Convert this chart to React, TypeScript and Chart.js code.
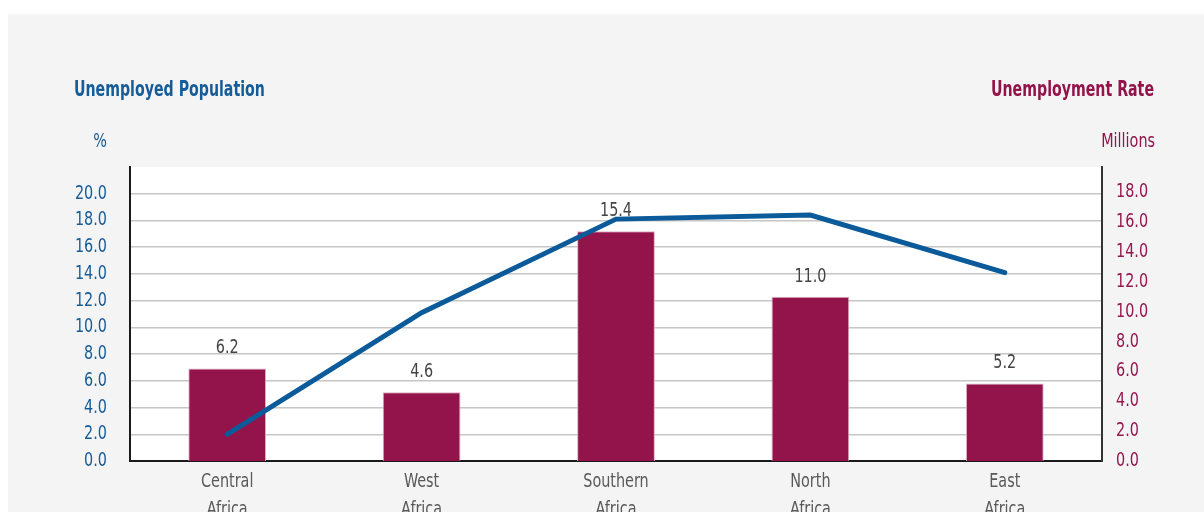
import React, { useEffect, useRef } from "react";
import { Chart, registerables } from "chart.js";

Chart.register(...registerables);

// ---- data ----
const categories: string[][] = [
  ["Central", "Africa"],
  ["West", "Africa"],
  ["Southern", "Africa"],
  ["North", "Africa"],
  ["East", "Africa"],
];
const barValues = [6.2, 4.6, 15.4, 11.0, 5.2];
const lineValues = [2.0, 11.1, 18.1, 18.4, 14.1];
const leftTicks = [0, 2, 4, 6, 8, 10, 12, 14, 16, 18, 20];
const rightTicks = [0, 2, 4, 6, 8, 10, 12, 14, 16, 18];
const leftTitle = "Unemployed Population";
const leftUnit = "%";
const rightTitle = "Unemployment Rate";
const rightUnit = "Millions";

const FONT = "'DejaVu Sans Condensed', 'Liberation Sans Narrow', sans-serif";
const BLUE = "#165C98";
const MAROON = "#93144A";
const RIGHT_TICK = "#96174E";
const W = 1196;
const H = 498;
const SX = 0.8;

function txt(
  ctx: CanvasRenderingContext2D,
  s: string,
  x: number,
  y: number,
  align: CanvasTextAlign,
  font: string,
  color: string,
  sx: number = SX
) {
  ctx.save();
  ctx.font = font;
  ctx.fillStyle = color;
  ctx.textBaseline = "alphabetic";
  ctx.textAlign = align;
  ctx.translate(x, y);
  ctx.scale(sx, 1);
  ctx.fillText(s, 0, 0);
  ctx.restore();
}

const decorPlugin = {
  id: "decor",
  beforeDraw(chart: any) {
    const { ctx, chartArea } = chart;
    ctx.save();
    ctx.fillStyle = "#ffffff";
    ctx.fillRect(chartArea.left, chartArea.top, chartArea.right - chartArea.left, chartArea.bottom - chartArea.top);
    ctx.restore();
  },
  afterDatasetDraw(chart: any, args: any) {
    if (args.meta.type !== "bar") return;
    const { ctx } = chart;
    const vals = chart.data.datasets[args.index].data as number[];
    args.meta.data.forEach((el: any, i: number) => {
      txt(ctx, Number(vals[i]).toFixed(1), el.x, el.y - 15, "center", `20px ${FONT}`, "#444444");
    });
  },
  afterDraw(chart: any) {
    const { ctx, chartArea, scales } = chart;
    // titles
    txt(ctx, leftTitle, 66, 82, "left", `bold 21px ${FONT}`, BLUE, 0.75);
    txt(ctx, rightTitle, 1146, 82, "right", `bold 21px ${FONT}`, MAROON, 0.75);
    txt(ctx, leftUnit, 99, 133, "right", `20px ${FONT}`, BLUE);
    txt(ctx, rightUnit, 1147, 133, "right", `20px ${FONT}`, MAROON);
    // left ticks
    const yL = scales.yL;
    leftTicks.forEach((v) => {
      txt(ctx, v.toFixed(1), chartArea.left - 23, yL.getPixelForValue(v) + 5, "right", `20px ${FONT}`, BLUE);
    });
    // right ticks
    const yR = scales.yR;
    rightTicks.forEach((v) => {
      txt(ctx, v.toFixed(1), chartArea.right + 14, yR.getPixelForValue(v) + 5, "left", `20px ${FONT}`, RIGHT_TICK);
    });
    // category labels
    const xs = scales.x;
    categories.forEach((lines, i) => {
      const x = xs.getPixelForTick(i);
      lines.forEach((line, j) => {
        txt(ctx, line, x, chartArea.bottom + 26 + j * 28, "center", `20px ${FONT}`, "#595959");
      });
    });
  },
};

export default function App() {
  const ref = useRef<HTMLCanvasElement>(null);

  useEffect(() => {
    if (!ref.current) return;
    const chart = new Chart(ref.current, {
      type: "bar",
      data: {
        labels: categories.map((c) => c.join(" ")),
        datasets: [
          {
            type: "line",
            data: lineValues,
            yAxisID: "yL",
            borderColor: "#0B5A99",
            borderWidth: 5,
            pointRadius: 0,
            borderCapStyle: "round",
            borderJoinStyle: "miter",
            tension: 0,
            order: 0,
          } as any,
          {
            type: "bar",
            data: barValues,
            yAxisID: "yR",
            backgroundColor: MAROON,
            borderColor: "#dcb0c3",
            borderWidth: 1,
            barPercentage: 0.4,
            categoryPercentage: 1,
            order: 1,
          } as any,
        ],
      },
      options: {
        responsive: false,
        animation: false,
        layout: { padding: { top: 153, left: 0, right: 0, bottom: 0 } },
        plugins: { legend: { display: false }, tooltip: { enabled: false } },
        scales: {
          x: {
            type: "category",
            offset: true,
            grid: { display: false, drawTicks: false },
            border: { display: true, color: "#1a1a1a", width: 2 },
            ticks: { display: false },
            afterFit: (s: any) => {
              s.height = 51;
            },
          },
          yL: {
            position: "left",
            min: 0,
            max: 22,
            afterBuildTicks: (s: any) => {
              s.ticks = leftTicks.map((v) => ({ value: v }));
            },
            ticks: { display: false },
            grid: {
              color: (c: any) => (c.tick && c.tick.value === 0 ? "rgba(0,0,0,0)" : "#c6c6c6"),
              lineWidth: 1.5,
              drawTicks: false,
            },
            border: { display: true, color: "#1a1a1a", width: 2 },
            afterFit: (s: any) => {
              s.width = 122;
            },
          },
          yR: {
            position: "right",
            min: 0,
            max: 19.7,
            afterBuildTicks: (s: any) => {
              s.ticks = rightTicks.map((v) => ({ value: v }));
            },
            ticks: { display: false },
            grid: { display: false, drawTicks: false },
            border: { display: true, color: "#333333", width: 2 },
            afterFit: (s: any) => {
              s.width = 102;
            },
          },
        },
      } as any,
      plugins: [decorPlugin],
    });
    return () => chart.destroy();
  }, []);

  return (
    <div
      style={{
        position: "fixed",
        left: 8,
        top: 14,
        width: W,
        height: H,
        background: "#F4F4F4",
        overflow: "hidden",
      }}
    >
      <canvas ref={ref} width={W} height={H} style={{ display: "block", width: W, height: H }} />
    </div>
  );
}
